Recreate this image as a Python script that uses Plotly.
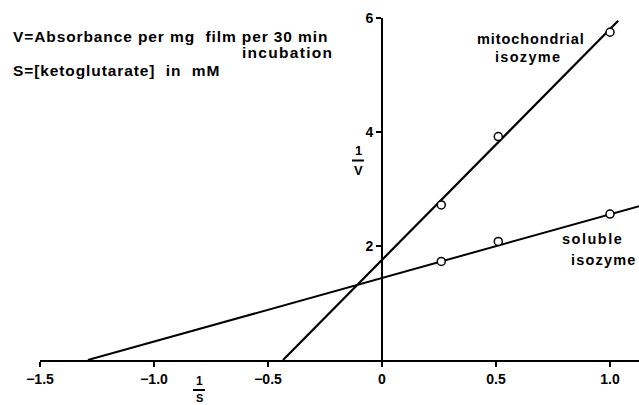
import plotly.graph_objects as go

# ---- data ----
x_ticks = [-1.5, -1.0, -0.5, 0, 0.5, 1.0]
x_tick_labels = ["\u22121.5", "\u22121.0", "\u22120.5", "0", "0.5", "1.0"]
y_ticks = [2, 4, 6]
y_tick_labels = ["2", "4", "6"]

inv_s = [0.26, 0.51, 1.0]                 # 1/S
mito_inv_v = [2.72, 3.92, 5.75]           # 1/V, mitochondrial isozyme
soluble_inv_v = [1.73, 2.08, 2.56]        # 1/V, soluble isozyme

# hand-drawn regression lines (end points)
mito_line_x = [-0.434, 1.036]
mito_line_y = [0.0, 5.95]
soluble_line_x = [-1.29, 1.13]
soluble_line_y = [0.0, 2.70]

W, H = 639, 405
FONT = "Liberation Sans, Arial, Helvetica, sans-serif"

def px(xp):
    return xp / W

def py(yp):
    return (H - yp) / H

fig = go.Figure()

fig.add_trace(go.Scatter(x=mito_line_x, y=mito_line_y, mode="lines",
                         line=dict(color="black", width=2.2), showlegend=False,
                         hoverinfo="skip"))
fig.add_trace(go.Scatter(x=soluble_line_x, y=soluble_line_y, mode="lines",
                         line=dict(color="black", width=2), showlegend=False,
                         hoverinfo="skip"))
fig.add_trace(go.Scatter(x=inv_s, y=mito_inv_v, mode="markers",
                         marker=dict(symbol="circle", size=8, color="white",
                                     line=dict(color="black", width=1.5)),
                         showlegend=False, name="mitochondrial isozyme"))
fig.add_trace(go.Scatter(x=inv_s, y=soluble_inv_v, mode="markers",
                         marker=dict(symbol="circle", size=8, color="white",
                                     line=dict(color="black", width=1.5)),
                         showlegend=False, name="soluble isozyme"))

def ls(t, sp=1):
    return f'<span style="letter-spacing:{sp}px">{t}</span>'

annots = [
    dict(text="<b>" + ls("V=Absorbance per mg&nbsp; film per 30 min", 0.9) + "</b>",
         x=px(12), y=py(36), xanchor="left", yanchor="middle", size=15.5),
    dict(text="<b>" + ls("incubation", 1.3) + "</b>",
         x=px(334), y=py(52), xanchor="right", yanchor="middle", size=15.5),
    dict(text="<b>" + ls("S=[ketoglutarate]&nbsp; in&nbsp; mM", 0.9) + "</b>",
         x=px(12), y=py(71), xanchor="left", yanchor="middle", size=15.5),
    dict(text="<b>" + ls("mitochondrial", 0.9) + "</b>",
         x=px(531), y=py(39), xanchor="center", yanchor="middle", size=14.5),
    dict(text="<b>" + ls("isozyme", 1.3) + "</b>",
         x=px(528), y=py(57), xanchor="center", yanchor="middle", size=14.5),
    dict(text="<b>" + ls("soluble", 1.5) + "</b>",
         x=px(561), y=py(239), xanchor="left", yanchor="middle", size=14.5),
    dict(text="<b>" + ls("isozyme", 1.2) + "</b>",
         x=px(638), y=py(260), xanchor="right", yanchor="middle", size=14.5),
    dict(text="<b>1</b>", x=px(358), y=py(151), xanchor="center", yanchor="middle", size=13),
    dict(text="<b>V</b>", x=px(358), y=py(170), xanchor="center", yanchor="middle", size=13),
    dict(text="<b>1</b>", x=px(199), y=py(381), xanchor="center", yanchor="middle", size=12),
    dict(text="<b>S</b>", x=px(199), y=py(398), xanchor="center", yanchor="middle", size=11),
]
for a in annots:
    fig.add_annotation(text=a["text"], x=a["x"], y=a["y"], xref="paper", yref="paper",
                       xanchor=a["xanchor"], yanchor=a["yanchor"], showarrow=False,
                       borderpad=0,
                       font=dict(family=FONT, size=a["size"], color="black"))

# fraction bars
fig.add_shape(type="line", xref="paper", yref="paper",
              x0=px(352), x1=px(364), y0=py(160.5), y1=py(160.5),
              line=dict(color="black", width=2))
fig.add_shape(type="line", xref="paper", yref="paper",
              x0=px(193), x1=px(205), y0=py(390), y1=py(390),
              line=dict(color="black", width=2))

x0_px, unit_x = 382, 228
y0_px, unit_y = 360, 57
x_left = -1.5
x_right = x_left + (W - 40) / unit_x

fig.update_layout(
    width=W, height=H,
    margin=dict(l=0, r=0, t=0, b=0, autoexpand=False),
    paper_bgcolor="white", plot_bgcolor="white",
    font=dict(family=FONT, size=14, color="black"),
    xaxis=dict(domain=[px(40), 1], range=[x_left, x_right],
               showline=True, linecolor="black", linewidth=2,
               ticks="outside", ticklen=5, tickwidth=2, tickcolor="black",
               tickvals=x_ticks, ticktext=["<b>%s</b>" % t for t in x_tick_labels],
               showgrid=False, zeroline=False, anchor="y",
               tickfont=dict(family=FONT, size=14, color="black")),
    yaxis=dict(domain=[py(y0_px), py(y0_px - 6 * unit_y)], range=[0, 6],
               anchor="free", position=px(x0_px),
               showline=True, linecolor="black", linewidth=2,
               ticks="outside", ticklen=5, tickwidth=2, tickcolor="black",
               tickvals=y_ticks, ticktext=["<b>%s</b>" % t for t in y_tick_labels],
               showgrid=False, zeroline=False,
               tickfont=dict(family=FONT, size=14, color="black")),
)

fig.write_html("out.html", config={"displayModeBar": False},
               post_script="document.body.style.margin='0';document.body.style.padding='0';")
